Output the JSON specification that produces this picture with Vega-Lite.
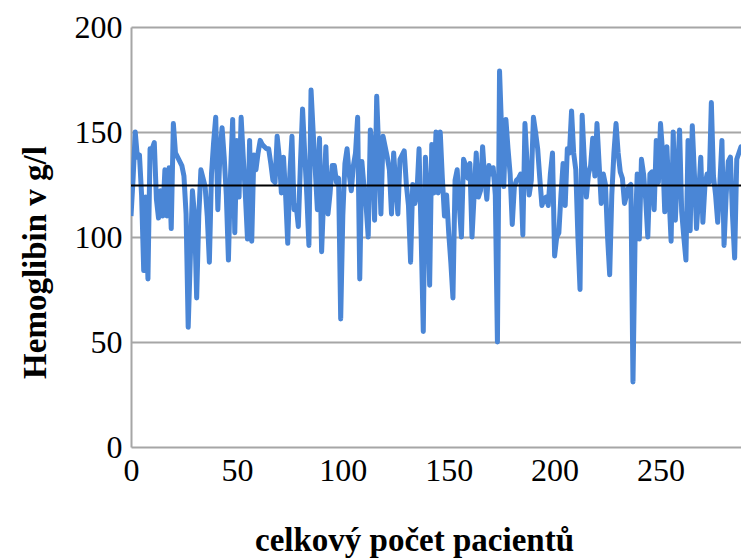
{
  "$schema": "https://vega.github.io/schema/vega-lite/v6.json",
  "width": 610,
  "height": 420,
  "autosize": {"type": "none"},
  "padding": {"left": 131, "top": 27, "right": 0, "bottom": 112},
  "background": "white",
  "config": {"view": {"stroke": null}, "font": "Liberation Serif"},
  "datasets": {
    "hb": [
      {"pacient":0,"hb":110},{"pacient":1,"hb":128},{"pacient":2,"hb":150},{"pacient":3,"hb":138},{"pacient":4,"hb":139},
      {"pacient":5,"hb":120},{"pacient":6,"hb":84},{"pacient":7,"hb":119},{"pacient":8,"hb":80},{"pacient":9,"hb":142},
      {"pacient":10,"hb":142},{"pacient":11,"hb":145},{"pacient":12,"hb":118},{"pacient":13,"hb":109},{"pacient":14,"hb":122},
      {"pacient":15,"hb":110},{"pacient":16,"hb":132},{"pacient":17,"hb":110},{"pacient":18,"hb":133},{"pacient":19,"hb":104},
      {"pacient":20,"hb":154},{"pacient":21,"hb":140},{"pacient":22,"hb":138},{"pacient":23,"hb":136},{"pacient":24,"hb":134},
      {"pacient":25,"hb":129},{"pacient":26,"hb":111},{"pacient":27,"hb":57},{"pacient":28,"hb":90},{"pacient":29,"hb":122},
      {"pacient":30,"hb":110},{"pacient":31,"hb":71},{"pacient":32,"hb":110},{"pacient":33,"hb":132},{"pacient":34,"hb":128},
      {"pacient":35,"hb":124},{"pacient":36,"hb":110},{"pacient":37,"hb":88},{"pacient":38,"hb":130},{"pacient":39,"hb":145},
      {"pacient":40,"hb":157},{"pacient":41,"hb":113},{"pacient":42,"hb":140},{"pacient":43,"hb":152},{"pacient":44,"hb":138},
      {"pacient":45,"hb":120},{"pacient":46,"hb":89},{"pacient":47,"hb":130},{"pacient":48,"hb":156},{"pacient":49,"hb":102},
      {"pacient":50,"hb":146},{"pacient":51,"hb":119},{"pacient":52,"hb":157},{"pacient":53,"hb":138},{"pacient":54,"hb":120},
      {"pacient":55,"hb":99},{"pacient":56,"hb":146},{"pacient":57,"hb":98},{"pacient":58,"hb":139},{"pacient":59,"hb":132},
      {"pacient":60,"hb":140},{"pacient":61,"hb":146},{"pacient":62,"hb":144},{"pacient":63,"hb":143},{"pacient":64,"hb":142},
      {"pacient":65,"hb":142},{"pacient":66,"hb":135},{"pacient":67,"hb":127},{"pacient":68,"hb":126},{"pacient":69,"hb":148},
      {"pacient":70,"hb":138},{"pacient":71,"hb":121},{"pacient":72,"hb":138},{"pacient":73,"hb":120},{"pacient":74,"hb":97},
      {"pacient":75,"hb":130},{"pacient":76,"hb":148},{"pacient":77,"hb":113},{"pacient":78,"hb":115},{"pacient":79,"hb":105},
      {"pacient":80,"hb":135},{"pacient":81,"hb":161},{"pacient":82,"hb":140},{"pacient":83,"hb":120},{"pacient":84,"hb":96},
      {"pacient":85,"hb":170},{"pacient":86,"hb":150},{"pacient":87,"hb":132},{"pacient":88,"hb":113},{"pacient":89,"hb":147},
      {"pacient":90,"hb":93},{"pacient":91,"hb":120},{"pacient":92,"hb":143},{"pacient":93,"hb":111},{"pacient":94,"hb":121},
      {"pacient":95,"hb":134},{"pacient":96,"hb":134},{"pacient":97,"hb":126},{"pacient":98,"hb":128},{"pacient":99,"hb":61},
      {"pacient":100,"hb":110},{"pacient":101,"hb":135},{"pacient":102,"hb":142},{"pacient":103,"hb":130},{"pacient":104,"hb":122},
      {"pacient":105,"hb":134},{"pacient":106,"hb":140},{"pacient":107,"hb":157},{"pacient":108,"hb":80},{"pacient":109,"hb":136},
      {"pacient":110,"hb":124},{"pacient":111,"hb":115},{"pacient":112,"hb":100},{"pacient":113,"hb":151},{"pacient":114,"hb":142},
      {"pacient":115,"hb":108},{"pacient":116,"hb":167},{"pacient":117,"hb":140},{"pacient":118,"hb":111},{"pacient":119,"hb":148},
      {"pacient":120,"hb":143},{"pacient":121,"hb":138},{"pacient":122,"hb":132},{"pacient":123,"hb":111},{"pacient":124,"hb":140},
      {"pacient":125,"hb":125},{"pacient":126,"hb":111},{"pacient":127,"hb":137},{"pacient":128,"hb":139},{"pacient":129,"hb":141},
      {"pacient":130,"hb":125},{"pacient":131,"hb":115},{"pacient":132,"hb":88},{"pacient":133,"hb":125},{"pacient":134,"hb":116},
      {"pacient":135,"hb":121},{"pacient":136,"hb":142},{"pacient":137,"hb":100},{"pacient":138,"hb":55},{"pacient":139,"hb":138},
      {"pacient":140,"hb":120},{"pacient":141,"hb":77},{"pacient":142,"hb":144},{"pacient":143,"hb":121},{"pacient":144,"hb":150},
      {"pacient":145,"hb":121},{"pacient":146,"hb":150},{"pacient":147,"hb":128},{"pacient":148,"hb":110},{"pacient":149,"hb":120},
      {"pacient":150,"hb":102},{"pacient":151,"hb":88},{"pacient":152,"hb":71},{"pacient":153,"hb":127},{"pacient":154,"hb":132},
      {"pacient":155,"hb":115},{"pacient":156,"hb":100},{"pacient":157,"hb":137},{"pacient":158,"hb":134},{"pacient":159,"hb":128},
      {"pacient":160,"hb":135},{"pacient":161,"hb":100},{"pacient":162,"hb":120},{"pacient":163,"hb":140},{"pacient":164,"hb":119},
      {"pacient":165,"hb":122},{"pacient":166,"hb":143},{"pacient":167,"hb":128},{"pacient":168,"hb":118},{"pacient":169,"hb":134},
      {"pacient":170,"hb":130},{"pacient":171,"hb":133},{"pacient":172,"hb":120},{"pacient":173,"hb":50},{"pacient":174,"hb":179},
      {"pacient":175,"hb":150},{"pacient":176,"hb":124},{"pacient":177,"hb":156},{"pacient":178,"hb":142},{"pacient":179,"hb":130},
      {"pacient":180,"hb":106},{"pacient":181,"hb":124},{"pacient":182,"hb":127},{"pacient":183,"hb":128},{"pacient":184,"hb":130},
      {"pacient":185,"hb":101},{"pacient":186,"hb":154},{"pacient":187,"hb":135},{"pacient":188,"hb":120},{"pacient":189,"hb":127},
      {"pacient":190,"hb":157},{"pacient":191,"hb":150},{"pacient":192,"hb":142},{"pacient":193,"hb":128},{"pacient":194,"hb":115},
      {"pacient":195,"hb":118},{"pacient":196,"hb":119},{"pacient":197,"hb":115},{"pacient":198,"hb":130},{"pacient":199,"hb":140},
      {"pacient":200,"hb":91},{"pacient":201,"hb":100},{"pacient":202,"hb":102},{"pacient":203,"hb":120},{"pacient":204,"hb":135},
      {"pacient":205,"hb":115},{"pacient":206,"hb":142},{"pacient":207,"hb":140},{"pacient":208,"hb":160},{"pacient":209,"hb":140},
      {"pacient":210,"hb":132},{"pacient":211,"hb":100},{"pacient":212,"hb":75},{"pacient":213,"hb":158},{"pacient":214,"hb":137},
      {"pacient":215,"hb":119},{"pacient":216,"hb":130},{"pacient":217,"hb":134},{"pacient":218,"hb":147},{"pacient":219,"hb":129},
      {"pacient":220,"hb":154},{"pacient":221,"hb":135},{"pacient":222,"hb":116},{"pacient":223,"hb":130},{"pacient":224,"hb":125},
      {"pacient":225,"hb":100},{"pacient":226,"hb":82},{"pacient":227,"hb":120},{"pacient":228,"hb":140},{"pacient":229,"hb":154},
      {"pacient":230,"hb":140},{"pacient":231,"hb":131},{"pacient":232,"hb":128},{"pacient":233,"hb":116},{"pacient":234,"hb":120},
      {"pacient":235,"hb":124},{"pacient":236,"hb":125},{"pacient":237,"hb":31},{"pacient":238,"hb":100},{"pacient":239,"hb":130},
      {"pacient":240,"hb":99},{"pacient":241,"hb":137},{"pacient":242,"hb":130},{"pacient":243,"hb":118},{"pacient":244,"hb":100},
      {"pacient":245,"hb":130},{"pacient":246,"hb":131},{"pacient":247,"hb":113},{"pacient":248,"hb":146},{"pacient":249,"hb":126},
      {"pacient":250,"hb":154},{"pacient":251,"hb":140},{"pacient":252,"hb":112},{"pacient":253,"hb":143},{"pacient":254,"hb":120},
      {"pacient":255,"hb":98},{"pacient":256,"hb":150},{"pacient":257,"hb":108},{"pacient":258,"hb":130},{"pacient":259,"hb":151},
      {"pacient":260,"hb":112},{"pacient":261,"hb":100},{"pacient":262,"hb":89},{"pacient":263,"hb":146},{"pacient":264,"hb":103},
      {"pacient":265,"hb":153},{"pacient":266,"hb":130},{"pacient":267,"hb":104},{"pacient":268,"hb":120},{"pacient":269,"hb":138},
      {"pacient":270,"hb":107},{"pacient":271,"hb":125},{"pacient":272,"hb":130},{"pacient":273,"hb":126},{"pacient":274,"hb":164},
      {"pacient":275,"hb":129},{"pacient":276,"hb":120},{"pacient":277,"hb":107},{"pacient":278,"hb":125},{"pacient":279,"hb":146},
      {"pacient":280,"hb":96},{"pacient":281,"hb":120},{"pacient":282,"hb":136},{"pacient":283,"hb":138},{"pacient":284,"hb":110},
      {"pacient":285,"hb":90},{"pacient":286,"hb":137},{"pacient":287,"hb":140},{"pacient":288,"hb":143},{"pacient":289,"hb":140}
    ],
    "prumer": [{"prumer": 124.5}]
  },
  "layer": [
    {
      "data": {"name": "hb"},
      "mark": {"type": "line", "color": "#4A86D6", "strokeWidth": 5, "strokeJoin": "round", "clip": true},
      "encoding": {
        "x": {
          "field": "pacient", "type": "quantitative",
          "scale": {"domain": [0, 288], "nice": false, "zero": false},
          "axis": {
            "values": [0, 50, 100, 150, 200, 250],
            "grid": false, "domain": false, "ticks": false,
            "labelFontSize": 32, "labelColor": "black", "labelPadding": 8,
            "labelFlush": false, "labelOverlap": false,
            "title": "celkový počet pacientů",
            "titleFontSize": 33, "titleFontWeight": "bold", "titleColor": "black",
            "titleX": 283, "titleY": 93, "titleAlign": "center", "titleBaseline": "middle"
          }
        },
        "y": {
          "field": "hb", "type": "quantitative",
          "scale": {"domain": [0, 200], "nice": false},
          "axis": {
            "values": [0, 50, 100, 150, 200],
            "grid": true, "gridColor": "#a6a6a6", "gridWidth": 2,
            "domain": true, "domainColor": "#a6a6a6", "domainWidth": 2,
            "ticks": false,
            "labelFontSize": 32, "labelColor": "black", "labelPadding": 9,
            "labelFlush": false, "labelOverlap": false,
            "title": "Hemoglibin v g/l",
            "titleFontSize": 33, "titleFontWeight": "bold", "titleColor": "black",
            "titleX": -96, "titleY": 235, "titleAngle": 270,
            "titleAlign": "center", "titleBaseline": "middle"
          }
        }
      }
    },
    {
      "data": {"name": "prumer"},
      "mark": {"type": "rule", "color": "black", "strokeWidth": 2},
      "encoding": {"y": {"field": "prumer", "type": "quantitative"}}
    }
  ]
}
